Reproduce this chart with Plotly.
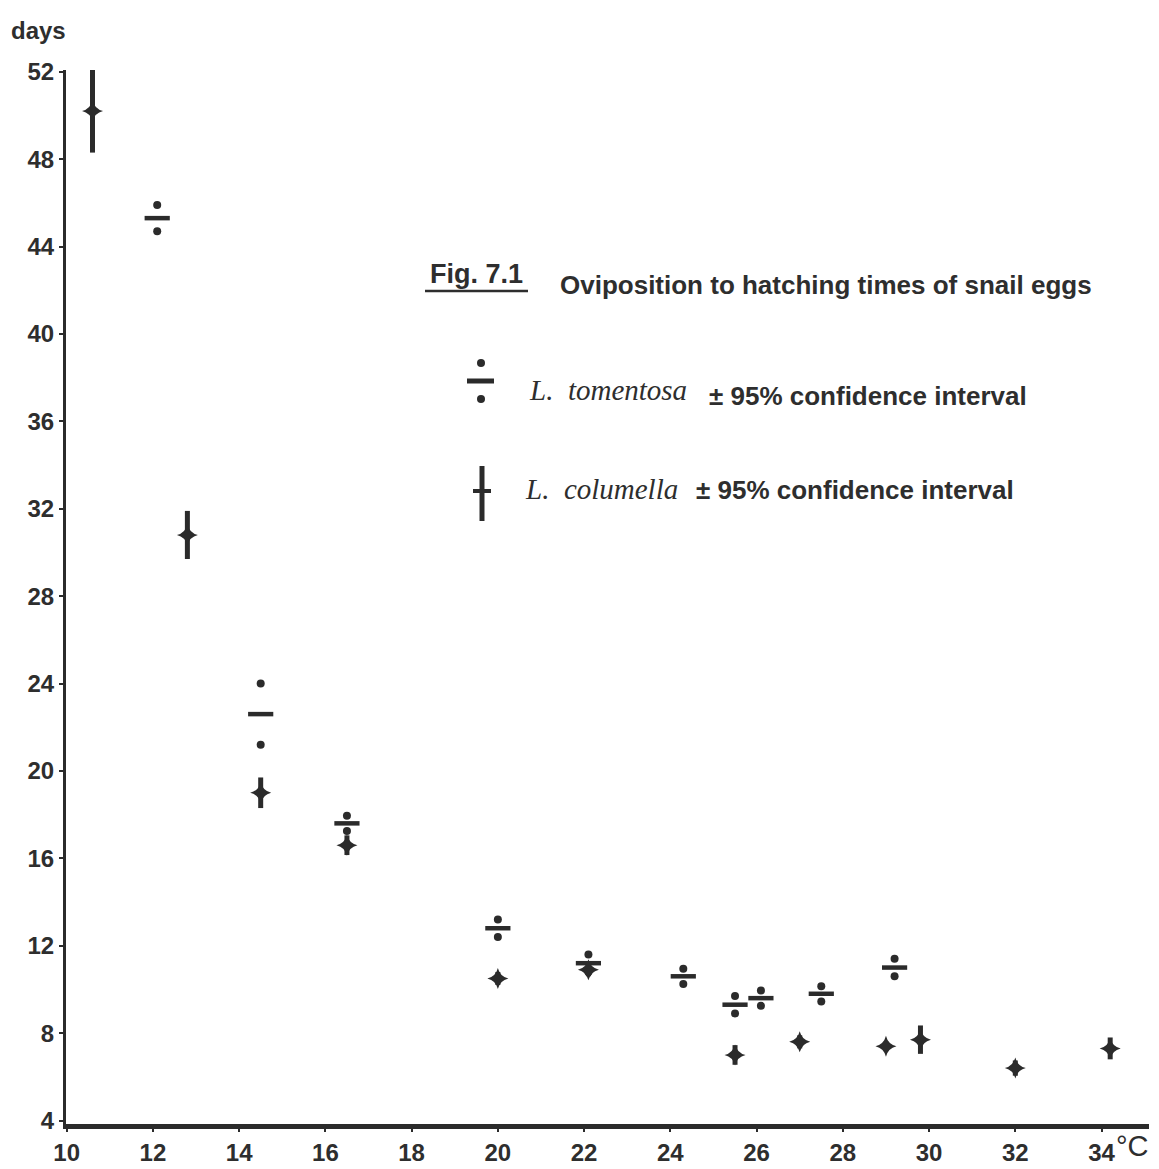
import plotly.graph_objects as go

# ---- data ----
tom_temp = [12.1, 14.5, 16.5, 20.0, 22.1, 24.3, 25.5, 26.1, 27.5, 29.2]
tom_days = [45.3, 22.6, 17.6, 12.8, 11.2, 10.6, 9.3, 9.6, 9.8, 11.0]
tom_ci   = [0.6, 1.4, 0.35, 0.4, 0.4, 0.35, 0.4, 0.35, 0.35, 0.4]

col_temp = [10.6, 12.8, 14.5, 16.5, 20.0, 22.1, 25.5, 27.0, 29.0, 29.8, 32.0, 34.2]
col_days = [50.2, 30.8, 19.0, 16.6, 10.5, 10.9, 7.0, 7.6, 7.4, 7.7, 6.4, 7.3]
col_ci   = [1.9, 1.1, 0.7, 0.45, 0.3, 0.3, 0.45, 0.3, 0.2, 0.65, 0.35, 0.5]

x_ticks = [10, 12, 14, 16, 18, 20, 22, 24, 26, 28, 30, 32, 34]
y_ticks = [4, 8, 12, 16, 20, 24, 28, 32, 36, 40, 44, 48, 52]

INK = "#2b2b2b"
TXT = "#2e2e2e"
SANS = "Liberation Sans, Arial, sans-serif"
SERIF = "Liberation Serif, Times New Roman, serif"

OFF = 8  # default page body margin
W, H = 1159 - OFF, 1169 - OFF
# plot-area edges in page pixels
L, R, T, B = 66, 1149, 70, 1124


def px(xp):
    return (xp - L) / (R - L)


def py(yp):
    return (B - yp) / (B - T)


fig = go.Figure()

# L. columella: mean with 95% CI as a thick vertical bar
fig.add_trace(go.Scatter(
    x=col_temp, y=col_days, mode="markers",
    marker=dict(symbol="star-diamond", size=15, color=INK, line=dict(width=0)),
    error_y=dict(type="data", array=col_ci, visible=True, thickness=5, width=0, color=INK),
    name="L. columella", showlegend=False, hoverinfo="x+y",
))

# L. tomentosa: mean as a dash, CI limits as dots
fig.add_trace(go.Scatter(
    x=tom_temp, y=tom_days, mode="markers",
    marker=dict(symbol="line-ew", size=18, color=INK, line=dict(width=4.5, color=INK)),
    name="L. tomentosa", showlegend=False, hoverinfo="x+y",
))
fig.add_trace(go.Scatter(
    x=tom_temp + tom_temp,
    y=[m + c for m, c in zip(tom_days, tom_ci)] + [m - c for m, c in zip(tom_days, tom_ci)],
    mode="markers",
    marker=dict(symbol="circle", size=8, color=INK, line=dict(width=0)),
    showlegend=False, hoverinfo="skip",
))

tick_text = [str(v) for v in x_ticks]

fig.update_layout(
    template="none",
    width=W, height=H,
    margin=dict(l=L - OFF, r=W - (R - OFF), t=T - OFF, b=H - (B - OFF), pad=0, autoexpand=False),
    paper_bgcolor="white", plot_bgcolor="white",
    xaxis=dict(
        range=[9.985, 35.1], tickvals=x_ticks, ticktext=tick_text, automargin=False,
        showgrid=False, zeroline=False, showline=True, linewidth=5, linecolor=INK,
        ticks="outside", ticklen=3, tickwidth=1.5, tickcolor=INK,
        tickfont=dict(family=SANS, size=24, color=TXT, weight="bold"),
        ticklabelstandoff=0,
    ),
    yaxis=dict(
        range=[3.84, 52.08], tickvals=y_ticks, automargin=False,
        showgrid=False, zeroline=False, showline=True, linewidth=3, linecolor=INK,
        ticks="outside", ticklen=4, tickwidth=2, tickcolor=INK,
        tickfont=dict(family=SANS, size=24, color=TXT, weight="bold"),
        ticklabelstandoff=0,
    ),
)

ann = []
ann.append(dict(text="days", x=px(38), y=py(30), xref="paper", yref="paper",
                showarrow=False, xanchor="center", yanchor="middle",
                font=dict(family=SANS, size=24, color=TXT, weight="bold")))
ann.append(dict(text="°C", x=px(1114), y=py(1146), xref="paper", yref="paper",
                showarrow=False, xanchor="left", yanchor="middle",
                font=dict(family=SANS, size=29, color=TXT)))
ann.append(dict(text="Fig. 7.1", x=px(476), y=py(274), xref="paper", yref="paper",
                showarrow=False, xanchor="center", yanchor="middle",
                font=dict(family=SANS, size=27, color=TXT, weight="bold")))
ann.append(dict(text="Oviposition to hatching times of snail eggs", x=px(558), y=py(285),
                xref="paper", yref="paper", showarrow=False, xanchor="left", yanchor="middle",
                font=dict(family=SANS, size=26, color=TXT, weight="bold")))
ann.append(dict(text="<i>L.  tomentosa</i>", x=px(527), y=py(390), xref="paper", yref="paper",
                showarrow=False, xanchor="left", yanchor="middle",
                font=dict(family=SERIF, size=29, color=TXT)))
ann.append(dict(text="± 95% confidence interval", x=px(707), y=py(396), xref="paper", yref="paper",
                showarrow=False, xanchor="left", yanchor="middle",
                font=dict(family=SANS, size=26, color=TXT, weight="bold")))
ann.append(dict(text="<i>L.  columella</i>", x=px(523), y=py(489), xref="paper", yref="paper",
                showarrow=False, xanchor="left", yanchor="middle",
                font=dict(family=SERIF, size=29, color=TXT)))
ann.append(dict(text="± 95% confidence interval", x=px(694), y=py(490), xref="paper", yref="paper",
                showarrow=False, xanchor="left", yanchor="middle",
                font=dict(family=SANS, size=26, color=TXT, weight="bold")))
fig.update_layout(annotations=ann)

shapes = []
# underline of "Fig. 7.1"
shapes.append(dict(type="line", xref="paper", yref="paper", x0=px(425), x1=px(528),
                   y0=py(291), y1=py(291), line=dict(color=TXT, width=2.5)))
# legend glyph: L. tomentosa
shapes.append(dict(type="line", xref="paper", yref="paper", x0=px(467), x1=px(494),
                   y0=py(381), y1=py(381), line=dict(color=INK, width=5)))
for yy in (363, 399):
    shapes.append(dict(type="circle", xref="paper", yref="paper", x0=px(477), x1=px(485),
                       y0=py(yy + 4), y1=py(yy - 4), fillcolor=INK, line=dict(width=0)))
# legend glyph: L. columella
shapes.append(dict(type="line", xref="paper", yref="paper", x0=px(482), x1=px(482),
                   y0=py(466), y1=py(521), line=dict(color=INK, width=5)))
shapes.append(dict(type="line", xref="paper", yref="paper", x0=px(473), x1=px(491),
                   y0=py(491), y1=py(491), line=dict(color=INK, width=4)))
fig.update_layout(shapes=shapes)

fig.write_html("out.html")
